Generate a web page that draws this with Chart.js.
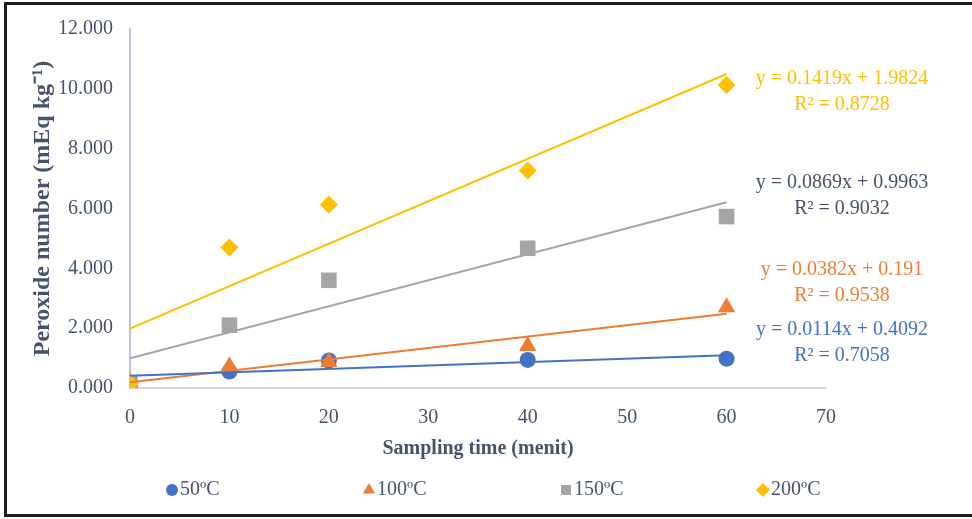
<!DOCTYPE html>
<html>
<head>
<meta charset="utf-8">
<script src="https://cdn.jsdelivr.net/npm/chart.js@4"></script>
<style>
  html, body { margin: 0; padding: 0; background: #fff; overflow: hidden; }
  #frame { position: absolute; left: 4px; top: 2px; width: 968px; height: 515px; border: 3px solid #1e1e1e; border-right: none; box-sizing: border-box; }
  #wrap { position: absolute; left: 0; top: 0; width: 972px; height: 519px; }
</style>
</head>
<body>
<div id="frame"></div>
<div id="wrap"><canvas id="chart"></canvas></div>
<script>
// sampling times (menit) and peroxide numbers per frying temperature
const times = [0, 10, 20, 40, 60];
const temps = ['50ºC', '100ºC', '150ºC', '200ºC'];
const pv50 = [0.12, 0.55, 0.92, 0.94, 0.98];
const pv100 = [0.21, 0.73, 0.87, 1.40, 2.70];
const pv150 = [0.15, 2.10, 3.60, 4.67, 5.73];
const pv200 = [0.15, 4.70, 6.13, 7.27, 10.13];

// linear trendlines as printed on the chart
const slopes = [0.0114, 0.0382, 0.0869, 0.1419];
const intercepts = [0.4092, 0.191, 0.9963, 1.9824];
const rSquared = ['0.7058', '0.9538', '0.9032', '0.8728'];

const colors = ['#4472C4', '#ED7D31', '#A5A5A5', '#FFC000'];
const eqColors = ['#4472C4', '#ED7D31', '#44546A', '#FFC000'];
const markers = ['circle', 'triangle', 'rect', 'rectRot'];
const markerSize = [8, 10, 11, 9];
const textColor = '#44546A';
const serif = '"Liberation Serif", "Times New Roman", serif';

const series = [pv50, pv100, pv150, pv200];

let datasets = [];
series.forEach(function (vals, i) {
    datasets.push({
        label: temps[i],
        data: times.map(function (t, j) { return {x: t, y: vals[j]}; }),
        showLine: false,
        pointStyle: markers[i],
        pointRadius: markerSize[i],
        pointBackgroundColor: colors[i],
        pointBorderWidth: 0,
        order: 4 - i
    });
});
series.forEach(function (vals, i) {
    let x0 = times[0], x1 = times[times.length - 1];
    datasets.push({
        label: 'trend ' + temps[i],
        data: [{x: x0, y: intercepts[i] + slopes[i] * x0}, {x: x1, y: intercepts[i] + slopes[i] * x1}],
        showLine: true,
        borderColor: colors[i],
        borderWidth: 2,
        pointRadius: 0,
        order: 0
    });
});

// equation labels, anchored in data units next to the end of each trendline
const eqAnchors = [1.97, 3.97, 6.9, 10.37];

const equationPlugin = {
    id: 'equations',
    afterDraw(chart) {
        let ctx = chart.ctx;
        let ys = chart.scales.y;
        ctx.save();
        ctx.font = '20px ' + serif;
        ctx.textAlign = 'center';
        ctx.textBaseline = 'middle';
        for (let i = 0; i < slopes.length; i++) {
            let cx = chart.chartArea.right + 16;
            let cy = ys.getPixelForValue(eqAnchors[i]) + 1;
            ctx.fillStyle = eqColors[i];
            ctx.fillText('y = ' + slopes[i] + 'x + ' + intercepts[i], cx, cy);
            ctx.fillText('R² = ' + rSquared[i], cx, cy + 26);
        }
        ctx.restore();
    }
};

const legendPlugin = {
    id: 'bottomLegend',
    afterDraw(chart) {
        let ctx = chart.ctx;
        let cy = 490;
        ctx.save();
        ctx.font = '20px ' + serif;
        ctx.textBaseline = 'middle';
        ctx.textAlign = 'left';
        for (let i = 0; i < temps.length; i++) {
            let x = 172 + i * 197;
            ctx.fillStyle = colors[i];
            Chart.helpers.drawPoint(ctx, {
                pointStyle: markers[i],
                radius: [6, 7, 7, 7][i],
                rotation: 0,
                borderWidth: 0
            }, x, cy);
            ctx.fillStyle = textColor;
            ctx.fillText(temps[i], x + 8, cy);
        }
        ctx.restore();
    }
};

new Chart(document.getElementById('chart').getContext('2d'), {
    type: 'scatter',
    data: {datasets: datasets},
    options: {
        responsive: true,
        maintainAspectRatio: false,
        animation: false,
        layout: {padding: {left: 20, top: 28, right: 146, bottom: 58}},
        plugins: {
            legend: {display: false},
            tooltip: {enabled: false}
        },
        scales: {
            x: {
                type: 'linear',
                min: 0,
                max: 70,
                ticks: {stepSize: 10, padding: 18, color: textColor, font: {family: serif, size: 20}},
                grid: {display: false, drawTicks: false},
                border: {display: true, color: '#D9D9D9', width: 2},
                title: {display: true, text: 'Sampling time (menit)', color: textColor,
                    font: {family: serif, size: 20, weight: 'bold'}, padding: {top: 0, bottom: 0}},
                afterFit: function (scale) { scale.height = 73; }
            },
            y: {
                min: 0,
                max: 12,
                ticks: {stepSize: 2, padding: 17, color: textColor, font: {family: serif, size: 20},
                    callback: function (v) { return v.toFixed(3); }},
                grid: {display: false, drawTicks: false},
                border: {display: true, color: '#BCC6DA', width: 2},
                title: {display: true, text: 'Peroxide number (mEq kg⁻¹)', color: textColor,
                    font: {family: serif, size: 24, weight: 'bold'}, padding: {top: 8, bottom: 0}},
                afterFit: function (scale) { scale.width = 110; }
            }
        }
    },
    plugins: [equationPlugin, legendPlugin]
});
</script>
</body>
</html>
